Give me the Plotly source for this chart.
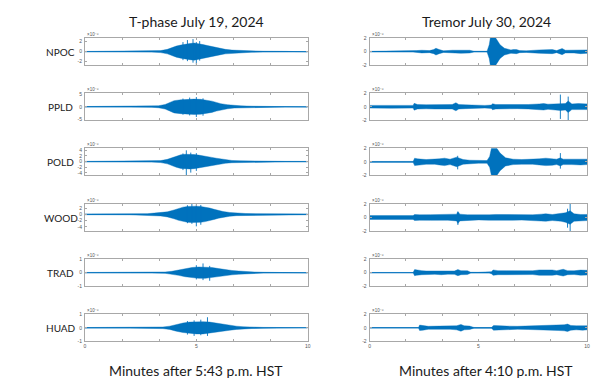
import plotly.graph_objects as go

# ---------------- data ----------------
STATIONS = ["NPOC", "PPLD", "POLD", "WOOD", "TRAD", "HUAD"]
TITLE_LEFT = "T-phase July 19, 2024"
TITLE_RIGHT = "Tremor July 30, 2024"
XLABEL_LEFT = "Minutes after 5:43 p.m. HST"
XLABEL_RIGHT = "Minutes after 4:10 p.m. HST"
EXPONENT = "\u00d710\u207b\u2076"

# x ticks every 100 s, labelled in minutes
X_TICK_SECONDS = [0, 100, 200, 300, 400, 500, 600]
X_TICK_TEXT = ["0", "", "", "5", "", "", "10"]

# y-axis limits and ticks (units of 1e-6)
Y_RANGE_LEFT = [[-2.7, 2.7], [-5.3, 5.3], [-4.9, 4.7], [-5.3, 3.3], [-1.0, 1.0], [-1.0, 1.0]]
Y_TICKS_LEFT = [[-2, 0, 2], [-5, 0, 5], [-4, -2, 0, 2, 4], [-4, -2, 0, 2], [-1, 0, 1], [-1, 0, 1]]
Y_RANGE_RIGHT = [[-2.0, 2.0]] * 6
Y_TICKS_RIGHT = [[-2, 0, 2]] * 6

# ---- T-phase (left column): envelope knots (minutes, amplitude) ----
NPOC_L_T = [0, 1, 2, 3, 3.4, 3.7, 3.9, 4.1, 4.3, 4.5, 4.7, 4.9, 5.1, 5.3, 5.5, 5.7, 5.9, 6.1, 6.3, 6.6, 7.0, 7.5, 8.0, 9.0, 10]
NPOC_L_E = [0.03, 0.04, 0.05, 0.1, 0.2, 0.45, 0.8, 1.1, 1.3, 1.5, 1.6, 1.7, 1.6, 1.4, 1.2, 1.0, 0.8, 0.6, 0.45, 0.3, 0.2, 0.12, 0.08, 0.05, 0.04]
NPOC_L_SPK_T = [4.4, 4.6, 4.85, 5.0, 5.15]
NPOC_L_SPK_HI = [1.9, 2.3, 2.5, 1.9, 2.1]
NPOC_L_SPK_LO = [-1.7, -1.9, -2.2, -2.6, -1.8]

PPLD_L_T = [0, 1, 2, 3, 3.3, 3.6, 3.8, 4.0, 4.3, 4.6, 4.9, 5.2, 5.5, 5.7, 5.9, 6.1, 6.4, 6.7, 7.0, 7.5, 8, 9, 10]
PPLD_L_E = [0.08, 0.09, 0.1, 0.2, 0.4, 0.9, 1.8, 2.4, 2.7, 2.9, 3.0, 2.9, 2.6, 2.2, 1.7, 1.2, 0.8, 0.5, 0.35, 0.22, 0.15, 0.1, 0.08]
PPLD_L_SPK_T = [4.4, 4.7, 5.0, 5.3]
PPLD_L_SPK_HI = [3.2, 3.6, 3.8, 3.3]
PPLD_L_SPK_LO = [-3.1, -3.4, -4.0, -3.5]

POLD_L_T = [0, 1, 2, 3, 3.4, 3.7, 3.9, 4.1, 4.3, 4.5, 4.7, 4.9, 5.1, 5.3, 5.5, 5.7, 5.9, 6.1, 6.3, 6.6, 7.0, 7.5, 8, 9, 10]
POLD_L_E = [0.08, 0.09, 0.1, 0.16, 0.35, 0.8, 1.4, 2.0, 2.4, 2.6, 2.6, 2.5, 2.3, 2.1, 1.8, 1.5, 1.2, 0.9, 0.6, 0.4, 0.28, 0.18, 0.12, 0.09, 0.08]
POLD_L_SPK_T = [4.4, 4.55, 4.75, 5.0]
POLD_L_SPK_HI = [2.9, 4.0, 3.2, 3.0]
POLD_L_SPK_LO = [-3.0, -4.8, -3.9, -3.3]

WOOD_L_T = [0, 1, 2, 2.8, 3.1, 3.4, 3.7, 4.0, 4.2, 4.4, 4.6, 4.8, 5.0, 5.2, 5.4, 5.6, 5.8, 6.0, 6.2, 6.5, 6.8, 7.2, 8, 9, 10]
WOOD_L_E = [0.12, 0.12, 0.15, 0.22, 0.4, 0.5, 0.8, 1.4, 1.9, 2.3, 2.5, 2.6, 2.6, 2.5, 2.3, 2.0, 1.6, 1.2, 0.9, 0.6, 0.4, 0.28, 0.18, 0.14, 0.12]
WOOD_L_SPK_T = [4.6, 4.8, 5.0, 5.2]
WOOD_L_SPK_HI = [2.9, 3.3, 3.2, 3.0]
WOOD_L_SPK_LO = [-2.8, -3.0, -3.8, -3.3]

TRAD_L_T = [0, 1, 2, 3, 3.6, 3.9, 4.2, 4.5, 4.8, 5.1, 5.4, 5.7, 6.0, 6.3, 6.6, 6.9, 7.2, 7.6, 8, 9, 10]
TRAD_L_E = [0.015, 0.015, 0.015, 0.02, 0.05, 0.1, 0.2, 0.3, 0.38, 0.42, 0.42, 0.38, 0.3, 0.22, 0.16, 0.12, 0.08, 0.05, 0.03, 0.02, 0.015]
TRAD_L_SPK_T = [5.0, 5.3, 5.6]
TRAD_L_SPK_HI = [0.55, 0.68, 0.5]
TRAD_L_SPK_LO = [-0.5, -0.55, -0.6]

HUAD_L_T = [0, 1, 2, 3, 3.5, 3.8, 4.1, 4.4, 4.7, 5.0, 5.3, 5.6, 5.9, 6.2, 6.5, 6.8, 7.1, 7.5, 8, 9, 10]
HUAD_L_E = [0.02, 0.02, 0.02, 0.03, 0.06, 0.12, 0.25, 0.35, 0.42, 0.45, 0.45, 0.42, 0.34, 0.26, 0.18, 0.12, 0.08, 0.05, 0.03, 0.02, 0.02]
HUAD_L_SPK_T = [4.6, 4.9, 5.2, 5.5]
HUAD_L_SPK_HI = [0.5, 0.55, 0.6, 0.78]
HUAD_L_SPK_LO = [-0.5, -0.6, -0.55, -0.6]

# ---- Tremor (right column) ----
NPOC_R_T = [0, 2.0, 2.15, 2.4, 2.75, 2.95, 3.05, 3.2, 3.4, 3.8, 4.2, 4.6, 4.8, 5.4, 5.5, 5.55, 5.8, 6.0, 6.2, 6.5, 6.6, 6.75, 6.9, 7.2, 7.8, 8.1, 8.4, 8.6, 8.85, 9.0, 9.4, 9.7, 10]
NPOC_R_E = [0.04, 0.05, 0.15, 0.2, 0.15, 0.3, 0.5, 0.3, 0.12, 0.2, 0.25, 0.2, 0.06, 0.06, 1.0, 2.0, 2.0, 1.0, 0.5, 0.25, 0.3, 0.3, 0.15, 0.12, 0.25, 0.3, 0.3, 0.15, 0.45, 0.2, 0.2, 0.3, 0.25]
NPOC_R_SPK_T = []
NPOC_R_SPK_HI = []
NPOC_R_SPK_LO = []

PPLD_R_T = [0, 1.0, 2.0, 2.05, 2.2, 2.6, 3.0, 3.4, 3.8, 3.97, 4.1, 4.4, 4.8, 5.3, 5.6, 5.65, 5.8, 6.3, 6.8, 7.3, 7.8, 8.0, 8.2, 8.5, 8.77, 9.0, 9.13, 9.3, 9.6, 10]
PPLD_R_E = [0.2, 0.22, 0.2, 0.5, 0.33, 0.3, 0.33, 0.28, 0.33, 0.6, 0.33, 0.28, 0.2, 0.2, 0.25, 0.45, 0.33, 0.3, 0.28, 0.33, 0.42, 0.48, 0.38, 0.42, 0.55, 0.48, 0.85, 0.42, 0.48, 0.42]
PPLD_R_SPK_T = [8.77, 9.13]
PPLD_R_SPK_HI = [1.8, 1.5]
PPLD_R_SPK_LO = [-1.8, -2.0]

POLD_R_T = [0, 1.0, 2.0, 2.07, 2.2, 2.6, 3.0, 3.2, 3.45, 3.7, 4.0, 4.1, 4.3, 4.6, 5.0, 5.4, 5.52, 5.6, 5.85, 6.0, 6.25, 6.6, 7.0, 7.5, 7.8, 8.1, 8.4, 8.6, 8.77, 8.9, 9.3, 9.7, 10]
POLD_R_E = [0.06, 0.06, 0.07, 0.55, 0.45, 0.35, 0.35, 0.45, 0.55, 0.4, 0.7, 0.6, 0.35, 0.25, 0.2, 0.2, 0.8, 2.0, 2.0, 1.3, 0.6, 0.4, 0.35, 0.35, 0.45, 0.55, 0.5, 0.4, 0.6, 0.4, 0.4, 0.45, 0.4]
POLD_R_SPK_T = [4.05, 8.77]
POLD_R_SPK_HI = [0.9, 1.3]
POLD_R_SPK_LO = [-1.1, -1.0]

WOOD_R_T = [0, 1.0, 2.0, 2.07, 2.3, 2.8, 3.2, 3.6, 4.0, 4.06, 4.15, 4.5, 5.0, 5.5, 5.8, 6.2, 6.6, 7.0, 7.5, 7.9, 8.1, 8.4, 8.8, 9.0, 9.22, 9.4, 9.7, 10]
WOOD_R_E = [0.28, 0.3, 0.28, 0.45, 0.4, 0.42, 0.45, 0.4, 0.5, 0.9, 0.5, 0.4, 0.35, 0.4, 0.45, 0.42, 0.4, 0.38, 0.4, 0.5, 0.55, 0.45, 0.55, 0.7, 1.0, 0.55, 0.45, 0.45]
WOOD_R_SPK_T = [4.06, 9.1, 9.22]
WOOD_R_SPK_HI = [0.8, 1.3, 2.0]
WOOD_R_SPK_LO = [-1.1, -1.5, -2.0]

TRAD_R_T = [0, 2.0, 2.07, 2.15, 2.4, 2.6, 3.0, 3.3, 3.6, 3.9, 4.06, 4.2, 4.5, 4.65, 5.0, 5.5, 5.6, 5.68, 5.9, 6.3, 6.7, 7.1, 7.5, 7.8, 8.1, 8.4, 8.6, 8.9, 9.1, 9.4, 9.7, 10]
TRAD_R_E = [0.03, 0.03, 0.45, 0.4, 0.3, 0.25, 0.25, 0.3, 0.22, 0.25, 0.45, 0.3, 0.28, 0.06, 0.05, 0.06, 0.15, 0.4, 0.3, 0.3, 0.28, 0.25, 0.28, 0.4, 0.45, 0.4, 0.3, 0.5, 0.3, 0.28, 0.38, 0.35]
TRAD_R_SPK_T = []
TRAD_R_SPK_HI = []
TRAD_R_SPK_LO = []

HUAD_R_T = [0, 2.25, 2.3, 2.45, 2.7, 3.2, 3.7, 4.0, 4.2, 4.35, 4.6, 4.8, 5.2, 5.6, 5.7, 5.9, 6.3, 6.8, 7.3, 7.8, 8.1, 8.4, 8.7, 8.95, 9.1, 9.25, 9.5, 9.8, 10]
HUAD_R_E = [0.03, 0.03, 0.4, 0.35, 0.22, 0.25, 0.22, 0.3, 0.5, 0.3, 0.25, 0.05, 0.04, 0.05, 0.35, 0.3, 0.25, 0.22, 0.25, 0.35, 0.4, 0.35, 0.4, 0.45, 0.55, 0.35, 0.3, 0.35, 0.3]
HUAD_R_SPK_T = []
HUAD_R_SPK_HI = []
HUAD_R_SPK_LO = []

LEFT = [
    (NPOC_L_T, NPOC_L_E, NPOC_L_SPK_T, NPOC_L_SPK_HI, NPOC_L_SPK_LO),
    (PPLD_L_T, PPLD_L_E, PPLD_L_SPK_T, PPLD_L_SPK_HI, PPLD_L_SPK_LO),
    (POLD_L_T, POLD_L_E, POLD_L_SPK_T, POLD_L_SPK_HI, POLD_L_SPK_LO),
    (WOOD_L_T, WOOD_L_E, WOOD_L_SPK_T, WOOD_L_SPK_HI, WOOD_L_SPK_LO),
    (TRAD_L_T, TRAD_L_E, TRAD_L_SPK_T, TRAD_L_SPK_HI, TRAD_L_SPK_LO),
    (HUAD_L_T, HUAD_L_E, HUAD_L_SPK_T, HUAD_L_SPK_HI, HUAD_L_SPK_LO),
]
RIGHT = [
    (NPOC_R_T, NPOC_R_E, NPOC_R_SPK_T, NPOC_R_SPK_HI, NPOC_R_SPK_LO),
    (PPLD_R_T, PPLD_R_E, PPLD_R_SPK_T, PPLD_R_SPK_HI, PPLD_R_SPK_LO),
    (POLD_R_T, POLD_R_E, POLD_R_SPK_T, POLD_R_SPK_HI, POLD_R_SPK_LO),
    (WOOD_R_T, WOOD_R_E, WOOD_R_SPK_T, WOOD_R_SPK_HI, WOOD_R_SPK_LO),
    (TRAD_R_T, TRAD_R_E, TRAD_R_SPK_T, TRAD_R_SPK_HI, TRAD_R_SPK_LO),
    (HUAD_R_T, HUAD_R_E, HUAD_R_SPK_T, HUAD_R_SPK_HI, HUAD_R_SPK_LO),
]

# ---------------- layout ----------------
W, H = 600, 390
BLUE = "#0072BD"
BOX = "#a8a8a8"
TICKFONT = dict(family="Liberation Sans, Arial", size=5, color="#555555")
TEXTFONT = "Lato, Open Sans, sans-serif"

COL_X = [(76.5, 300.7), (363.0, 582.0)]
ROW_TOP = [27.5, 83.5, 139.5, 196.0, 252.0, 308.0]
ROW_H = 27.5

fig = go.Figure()
x_tick_vals = [s / 60.0 for s in X_TICK_SECONDS]

k = 0
for col, (data, yr, yt) in enumerate([(LEFT, Y_RANGE_LEFT, Y_TICKS_LEFT),
                                      (RIGHT, Y_RANGE_RIGHT, Y_TICKS_RIGHT)]):
    for row in range(6):
        k += 1
        xa = "x" if k == 1 else f"x{k}"
        ya = "y" if k == 1 else f"y{k}"
        t, e, st, shi, slo = data[row]
        # baseline
        fig.add_trace(go.Scatter(x=[t[0], t[-1]], y=[0, 0], mode="lines",
                                 line=dict(color=BLUE, width=0.9), xaxis=xa, yaxis=ya,
                                 hoverinfo="skip", showlegend=False))
        # envelope
        px = list(t) + list(t[::-1])
        py = list(e) + [-v for v in e[::-1]]
        fig.add_trace(go.Scatter(x=px, y=py, mode="lines", fill="toself",
                                 fillcolor=BLUE, line=dict(color=BLUE, width=0.4),
                                 xaxis=xa, yaxis=ya, hoverinfo="skip", showlegend=False))
        # spikes
        if st:
            sx, sy = [], []
            for ti, hi, lo in zip(st, shi, slo):
                sx += [ti, ti, None]
                sy += [hi, lo, None]
            fig.add_trace(go.Scatter(x=sx, y=sy, mode="lines",
                                     line=dict(color=BLUE, width=0.9),
                                     xaxis=xa, yaxis=ya, hoverinfo="skip", showlegend=False))

        x0, x1 = COL_X[col]
        top = ROW_TOP[row]
        bot = top + ROW_H
        xdom = [x0 / W, x1 / W]
        ydom = [1 - bot / H, 1 - top / H]
        axis_common = dict(showline=True, mirror="allticks", linecolor=BOX, linewidth=1,
                           ticks="inside", ticklen=2, tickcolor=BOX, tickwidth=1,
                           showgrid=False, zeroline=False, tickfont=TICKFONT)
        last = row == 5
        fig.layout[("xaxis" if k == 1 else f"xaxis{k}")] = dict(
            domain=xdom, range=[0, 10], anchor=ya,
            tickmode="array", tickvals=x_tick_vals,
            ticktext=X_TICK_TEXT if last else [""] * len(x_tick_vals),
            showticklabels=True, **axis_common)
        fig.layout[("yaxis" if k == 1 else f"yaxis{k}")] = dict(
            domain=ydom, range=yr[row], anchor=xa,
            tickmode="array", tickvals=yt[row], ticktext=[str(v) for v in yt[row]],
            ticklabelstandoff=1, **axis_common)
        # exponent label
        fig.add_annotation(x=x0 / W, y=1 - (top - 4) / H, xref="paper", yref="paper",
                           text=EXPONENT, showarrow=False, xanchor="left", yanchor="middle",
                           font=dict(family="Liberation Sans, Arial", size=4.5, color="#555555"))
        if col == 0:
            fig.add_annotation(x=52 / W, y=1 - (top + ROW_H / 2) / H, xref="paper", yref="paper",
                               text=STATIONS[row], showarrow=False, xanchor="center", yanchor="middle",
                               font=dict(family=TEXTFONT, size=10, color="#1a1a1a"))

for txt, cx, cy in [(TITLE_LEFT, 189, 11), (TITLE_RIGHT, 481, 11),
                    (XLABEL_LEFT, 188, 365), (XLABEL_RIGHT, 480, 365)]:
    fig.add_annotation(x=cx / W, y=1 - cy / H, xref="paper", yref="paper", text=txt,
                       showarrow=False, xanchor="center", yanchor="middle",
                       font=dict(family=TEXTFONT, size=14, color="#1a1a1a"))

fig.update_layout(width=W, height=H, margin=dict(l=0, r=0, t=0, b=0),
                  paper_bgcolor="white", plot_bgcolor="white", showlegend=False)

fig.write_html("out.html")
